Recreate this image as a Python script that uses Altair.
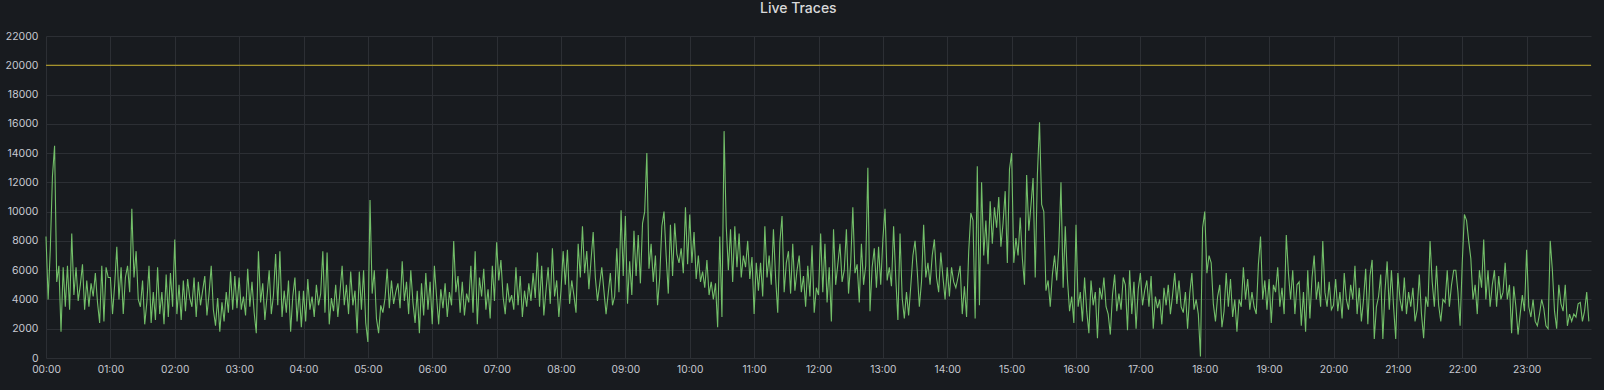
import altair as alt
import pandas as pd

# Live traces sampled every ~2 minutes, one list per hour of the day
hour_00 = [8300, 4000, 7400, 12400, 14500, 5200, 6300, 1800, 6200, 3500, 6300, 3300, 8500, 4300, 6200, 3900, 5000, 6400, 3300, 5300, 3500, 5100, 4200, 5800, 3800, 2400, 6300, 2500, 6200, 5500]
hour_01 = [5500, 3000, 5000, 7600, 4000, 6200, 3000, 5500, 6300, 4500, 10200, 5500, 7300, 4000, 3500, 5300, 2300, 3800, 6300, 2400, 4500, 2600, 6200, 3000, 4500, 2300, 5700, 2800, 5800, 3500]
hour_02 = [8100, 3000, 5000, 2600, 5300, 3200, 5400, 4100, 3500, 5500, 2800, 5200, 3600, 4600, 5600, 2900, 4400, 6300, 3300, 2200, 4100, 1800, 3800, 2500, 4500, 3100, 5900, 3300, 5600, 3400]
hour_03 = [5500, 3300, 4200, 2900, 6100, 3500, 5200, 3100, 1700, 7300, 3800, 5100, 2600, 4200, 6000, 3000, 4300, 7100, 3600, 7300, 2800, 4600, 3100, 5300, 1800, 4200, 5500, 2500, 4600, 2100]
hour_04 = [4600, 2500, 5400, 3300, 4200, 2800, 5000, 3600, 4400, 7300, 3100, 7200, 2300, 4100, 3200, 5000, 2800, 4500, 6300, 3600, 5000, 3000, 5900, 3600, 4600, 1700, 5900, 3300, 6000, 2400]
hour_05 = [1100, 10800, 4400, 6000, 2700, 1700, 3600, 3100, 4100, 6100, 3400, 5300, 3700, 4500, 5100, 3400, 6600, 3900, 5200, 3000, 6000, 3800, 2400, 4600, 1700, 5100, 2900, 5800, 3300, 5200]
hour_06 = [2300, 6300, 4200, 2300, 4700, 3400, 5100, 2800, 4500, 3600, 8000, 4500, 5600, 3100, 5200, 2900, 4400, 3800, 6300, 3100, 7300, 2300, 5500, 4200, 6100, 3300, 4700, 2700, 6300, 3900]
hour_07 = [7900, 5300, 6700, 4200, 3000, 5100, 3800, 4300, 3300, 6200, 3600, 5600, 2800, 4600, 3500, 5100, 3900, 5800, 4100, 7200, 3500, 6300, 2900, 4600, 6200, 3700, 7500, 4200, 5300, 2800]
hour_08 = [4600, 7300, 5000, 7400, 3700, 5300, 4300, 3100, 7800, 5500, 9000, 5800, 7300, 4700, 6700, 8600, 5500, 3900, 5000, 6200, 4600, 3000, 4400, 5800, 3600, 4200, 7500, 4500, 10100, 5600]
hour_09 = [9700, 3700, 6600, 4300, 8700, 5600, 8400, 5100, 9200, 10000, 14000, 6100, 7800, 5200, 7000, 3600, 5500, 9000, 10000, 7000, 4400, 9100, 5600, 9200, 7100, 6500, 7500, 5800, 10300, 6400]
hour_10 = [9800, 6500, 8600, 5400, 7000, 5200, 5900, 4800, 6700, 4300, 5200, 4000, 5100, 2100, 8300, 2800, 15500, 9000, 6000, 8800, 5200, 9000, 6200, 8500, 5500, 7000, 6200, 8000, 5400, 6900]
hour_11 = [3000, 6500, 4600, 6500, 4200, 9000, 5500, 7000, 5000, 8800, 5500, 3100, 7900, 9700, 4500, 6500, 7300, 4400, 7800, 4600, 6000, 7000, 4500, 5600, 3500, 6300, 4200, 7700, 3100, 4800]
hour_12 = [4300, 8500, 4500, 7800, 3800, 6200, 2500, 8800, 5000, 6400, 7800, 5200, 6000, 8800, 4400, 6500, 10300, 5800, 6400, 3800, 7800, 5000, 6300, 13000, 3200, 6200, 7500, 4800, 7600, 5000]
hour_13 = [8100, 10200, 5300, 6200, 4900, 9000, 5500, 2600, 8500, 4100, 2700, 4500, 2900, 4900, 7000, 8000, 6000, 3500, 5200, 9100, 5500, 6500, 5000, 7000, 8100, 5500, 4500, 7200, 5500, 4000]
hour_14 = [6200, 4200, 6200, 5200, 4800, 5500, 6300, 3000, 4900, 2800, 7300, 9900, 9400, 2700, 13100, 3600, 12000, 7000, 9400, 6400, 10700, 7800, 10300, 8900, 11000, 7600, 9200, 11400, 6500, 12900]
hour_15 = [14000, 6500, 8200, 7000, 9600, 6800, 5000, 12500, 8700, 10400, 12300, 5500, 12500, 16100, 10500, 10000, 4600, 5300, 3500, 5700, 7000, 5300, 7600, 12000, 4800, 9000, 5400, 3200, 4200, 2400]
hour_16 = [9100, 3500, 4500, 2500, 5500, 3200, 1700, 5300, 3600, 4500, 1350, 4800, 4000, 5500, 3500, 3000, 1600, 4300, 5700, 3200, 4400, 3300, 5500, 5000, 1900, 6000, 3000, 5200, 2000, 4700]
hour_17 = [5800, 3600, 4600, 5300, 3500, 5600, 2000, 4200, 3400, 4000, 2300, 4800, 3600, 5000, 3000, 4300, 5800, 3700, 5300, 3500, 3100, 4500, 2000, 4400, 5800, 3300, 4000, 3000, 100, 8900]
hour_18 = [10000, 5800, 7000, 6500, 3700, 2500, 4200, 5000, 2100, 3200, 5800, 3500, 5400, 2800, 4000, 1800, 4000, 3500, 6200, 4000, 5400, 3300, 4500, 3500, 3000, 6400, 8300, 4000, 5300, 3300]
hour_19 = [5400, 2400, 5000, 4500, 6200, 3500, 4800, 3000, 8400, 5800, 4000, 6000, 3000, 5000, 5200, 2200, 4500, 1800, 6000, 2700, 5500, 7000, 4000, 5200, 3500, 8000, 4500, 3500, 5200, 3300]
hour_20 = [3600, 5400, 3200, 4500, 2700, 5800, 4000, 3300, 5000, 4000, 6300, 3000, 4800, 2500, 4000, 6100, 2300, 5600, 6700, 1300, 3500, 4200, 5700, 1300, 4600, 6600, 3300, 6000, 3500, 1300]
hour_21 = [5800, 4000, 3200, 5500, 3000, 4500, 3500, 4800, 2500, 3300, 5700, 3000, 1350, 4200, 3500, 8000, 5200, 3500, 6300, 3600, 2500, 4000, 3800, 6000, 3500, 5000, 6000, 6000, 4500, 2200]
hour_22 = [6500, 9800, 9400, 8000, 6800, 4000, 5000, 3000, 6000, 4800, 8100, 4000, 6000, 3500, 5000, 6000, 3500, 5600, 4000, 4500, 6500, 4000, 5000, 1700, 4900, 3500, 1600, 3000, 4300, 3200]
hour_23 = [7400, 3500, 2800, 4000, 2500, 2200, 3000, 4000, 3400, 2200, 2000, 8000, 6000, 3200, 2000, 5000, 3700, 3200, 5000, 2200, 3000, 2500, 3000, 2800, 3700, 3800, 2500, 3200, 4500, 2500]

threshold = [20000]
y_ticks = [0, 2000, 4000, 6000, 8000, 10000, 12000, 14000, 16000, 18000, 20000, 22000]
x_ticks = [h * 60 for h in range(24)]

hours = [hour_00, hour_01, hour_02, hour_03, hour_04, hour_05, hour_06, hour_07,
         hour_08, hour_09, hour_10, hour_11, hour_12, hour_13, hour_14, hour_15,
         hour_16, hour_17, hour_18, hour_19, hour_20, hour_21, hour_22, hour_23]

rows = []
for h, vals in enumerate(hours):
    n = len(vals)
    for i, v in enumerate(vals):
        rows.append({"minute": h * 60 + i * 60.0 / n, "traces": v})
df = pd.DataFrame(rows)
df_thr = pd.DataFrame({"traces": threshold})

FONT = "Inter"
LABEL_COLOR = "#c7c9d1"
GRID_COLOR = "#2c2f34"

y_axis = alt.Axis(
    values=y_ticks, format="d", tickCount=12,
    title=None, ticks=False, domain=False, grid=True,
    gridColor=GRID_COLOR, labelColor=LABEL_COLOR, labelFont=FONT,
    labelFontSize=10.5, labelPadding=8, labelOverlap=False, labelFlush=False,
)
y_scale = alt.Scale(domain=[0, 22000], nice=False)

x_enc = alt.X(
    "minute:Q",
    scale=alt.Scale(domain=[0, 1440], nice=False, zero=False),
    axis=alt.Axis(
        values=x_ticks,
        labelExpr="(datum.value < 600 ? '0' : '') + floor(datum.value / 60) + ':00'",
        title=None, ticks=False, domain=False, grid=True,
        gridColor=GRID_COLOR, labelColor=LABEL_COLOR, labelFont=FONT,
        labelFontSize=10.2, labelPadding=6, labelFlush=False, labelOverlap=False,
    ),
)

line = alt.Chart(df).mark_line(color="#73bf69", strokeWidth=1.1).encode(
    x=x_enc, y=alt.Y("traces:Q", scale=y_scale, axis=y_axis)
)

rule = alt.Chart(df_thr).mark_rule(color="#c9b02c", strokeWidth=1).encode(
    y=alt.Y("traces:Q", scale=y_scale, axis=y_axis)
)

chart = alt.layer(line, rule).properties(
    width=1545,
    height=322,
    title=alt.TitleParams(
        "Live Traces", font=FONT, fontSize=14, fontWeight=500, color="#d8d9da",
        anchor="middle", frame="bounds", offset=15,
    ),
    background="#181b1f",
    padding={"left": 46, "top": 36, "right": 13, "bottom": 32},
    autosize=alt.AutoSizeParams(type="none"),
).configure_view(stroke=None)

chart.save("out.html", embed_options={"renderer": "svg", "actions": False})
